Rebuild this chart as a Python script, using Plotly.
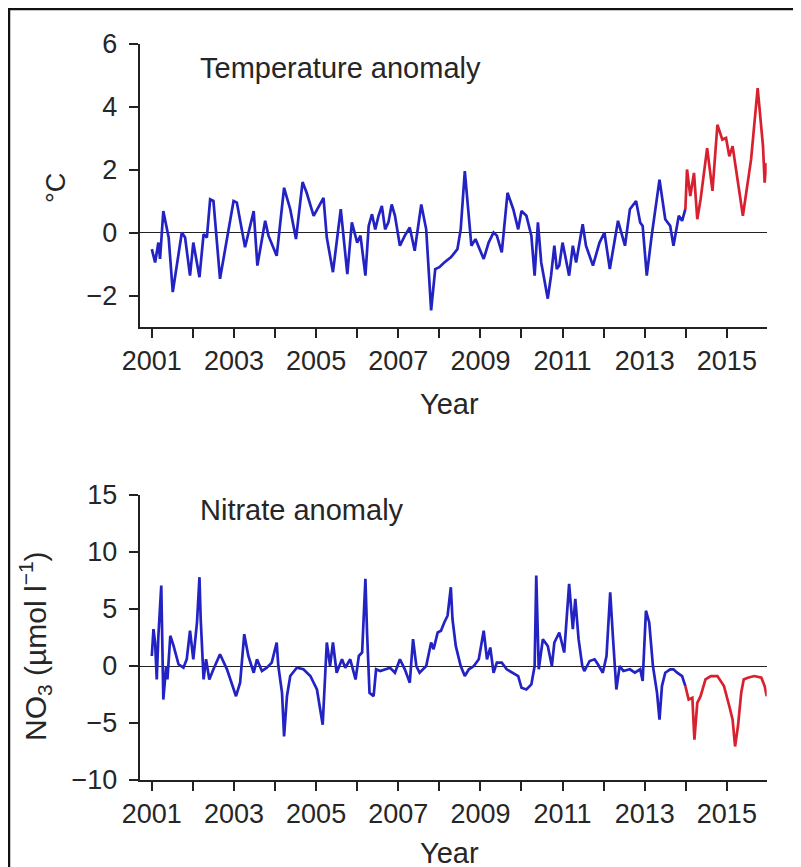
import plotly.graph_objects as go

# ---------------- data ----------------
temp_blue_year = [2001.00, 2001.08, 2001.16, 2001.20, 2001.28, 2001.41, 2001.51, 2001.73, 2001.81, 2001.93,
                  2002.01, 2002.16, 2002.26, 2002.34, 2002.42, 2002.50, 2002.66, 2002.99, 2003.07, 2003.27,
                  2003.48, 2003.57, 2003.76, 2003.84, 2004.04, 2004.22, 2004.37, 2004.51, 2004.67, 2004.77,
                  2004.94, 2005.18, 2005.26, 2005.41, 2005.60, 2005.76, 2005.87, 2006.00, 2006.08, 2006.20,
                  2006.28, 2006.36, 2006.44, 2006.52, 2006.60, 2006.68, 2006.76, 2006.84, 2006.92, 2007.04,
                  2007.16, 2007.28, 2007.40, 2007.56, 2007.68, 2007.80, 2007.90, 2008.00, 2008.12, 2008.28,
                  2008.44, 2008.52, 2008.62, 2008.72, 2008.78, 2008.88, 2009.08, 2009.20, 2009.32, 2009.40,
                  2009.52, 2009.66, 2009.80, 2009.92, 2010.00, 2010.12, 2010.24, 2010.32, 2010.40, 2010.48,
                  2010.64, 2010.72, 2010.80, 2010.86, 2010.92, 2011.00, 2011.08, 2011.16, 2011.25, 2011.33,
                  2011.49, 2011.57, 2011.74, 2011.90, 2012.02, 2012.15, 2012.35, 2012.43, 2012.52, 2012.64,
                  2012.79, 2012.89, 2012.95, 2013.05, 2013.17, 2013.36, 2013.50, 2013.62, 2013.70, 2013.83,
                  2013.91, 2013.99]
temp_blue_val = [-0.53, -0.95, -0.32, -0.84, 0.68, -0.16, -1.89, 0.00, -0.16, -1.37,
                 -0.32, -1.42, -0.05, -0.16, 1.05, 1.00, -1.47, 1.00, 0.95, -0.47,
                 0.68, -1.05, 0.37, -0.10, -0.74, 1.42, 0.74, -0.21, 1.60, 1.26,
                 0.53, 1.10, -0.16, -1.26, 0.74, -1.32, 0.32, -0.32, -0.10, -1.37,
                 0.21, 0.58, 0.10, 0.53, 0.84, 0.10, 0.32, 0.89, 0.53, -0.42,
                 -0.10, 0.16, -0.58, 0.89, 0.10, -2.47, -1.16, -1.10, -0.95, -0.79,
                 -0.53, 0.10, 1.95, 0.53, -0.42, -0.21, -0.84, -0.32, 0.00, -0.10,
                 -0.63, 1.26, 0.74, 0.10, 0.68, 0.53, -0.10, -1.37, 0.32, -0.95,
                 -2.10, -1.37, -0.42, -1.16, -1.05, -0.32, -0.84, -1.37, -0.42, -0.95,
                 0.26, -0.42, -1.05, -0.32, 0.00, -1.16, 0.37, 0.00, -0.42, 0.74,
                 1.00, 0.32, 0.21, -1.37, -0.10, 1.68, 0.42, 0.21, -0.42, 0.53,
                 0.37, 0.74]

temp_red_year = [2013.99, 2014.03, 2014.11, 2014.20, 2014.28, 2014.36, 2014.52, 2014.65, 2014.77, 2014.89,
                 2014.98, 2015.06, 2015.14, 2015.39, 2015.59, 2015.75, 2015.88, 2015.92, 2015.97]
temp_red_val = [0.74, 2.00, 1.16, 1.89, 0.42, 1.05, 2.68, 1.32, 3.42, 2.95,
                3.00, 2.42, 2.74, 0.53, 2.32, 4.58, 2.74, 1.58, 2.21]

no3_blue_year = [2001.00, 2001.04, 2001.08, 2001.12, 2001.16, 2001.23, 2001.28, 2001.35, 2001.38, 2001.45,
                 2001.53, 2001.65, 2001.77, 2001.85, 2001.93, 2002.01, 2002.10, 2002.16, 2002.19, 2002.26,
                 2002.32, 2002.40, 2002.50, 2002.66, 2002.83, 2003.05, 2003.15, 2003.25, 2003.35, 2003.48,
                 2003.56, 2003.68, 2003.80, 2003.92, 2004.04, 2004.08, 2004.17, 2004.22, 2004.29, 2004.37,
                 2004.53, 2004.69, 2004.86, 2005.02, 2005.16, 2005.20, 2005.26, 2005.34, 2005.41, 2005.50,
                 2005.63, 2005.71, 2005.83, 2005.96, 2006.04, 2006.12, 2006.20, 2006.24, 2006.30, 2006.40,
                 2006.46, 2006.56, 2006.68, 2006.80, 2006.92, 2007.04, 2007.16, 2007.28, 2007.36, 2007.44,
                 2007.52, 2007.60, 2007.68, 2007.80, 2007.86, 2007.96, 2008.04, 2008.12, 2008.20, 2008.28,
                 2008.32, 2008.40, 2008.52, 2008.62, 2008.72, 2008.84, 2008.96, 2009.08, 2009.16, 2009.24,
                 2009.32, 2009.40, 2009.52, 2009.64, 2009.80, 2009.92, 2010.00, 2010.12, 2010.24, 2010.32,
                 2010.36, 2010.42, 2010.52, 2010.64, 2010.74, 2010.80, 2010.92, 2011.04, 2011.16, 2011.25,
                 2011.31, 2011.39, 2011.48, 2011.53, 2011.66, 2011.78, 2011.86, 2011.98, 2012.07, 2012.16,
                 2012.23, 2012.31, 2012.39, 2012.48, 2012.64, 2012.76, 2012.89, 2012.95, 2013.03, 2013.11,
                 2013.20, 2013.30, 2013.36, 2013.42, 2013.50, 2013.62, 2013.70, 2013.79, 2013.91, 2013.99]
no3_blue_val = [0.88, 3.24, 2.06, -1.18, 2.65, 7.06, -2.94, 0.00, -1.18, 2.65,
                1.76, 0.15, -0.15, 0.59, 3.09, 0.59, 3.82, 7.79, 4.12, -1.18,
                0.59, -1.18, -0.29, 1.03, -0.29, -2.65, -1.47, 2.79, 0.88, -0.59,
                0.59, -0.44, -0.15, 0.29, 2.06, 0.00, -2.35, -6.18, -2.65, -0.88,
                -0.15, -0.29, -0.88, -2.06, -5.15, -1.76, 2.06, 0.00, 2.06, -0.59,
                0.59, -0.15, 0.59, -1.18, 0.88, 1.18, 7.65, 2.94, -2.35, -2.65,
                -0.29, -0.44, -0.29, -0.15, -0.59, 0.59, -0.29, -1.47, 2.35, 0.00,
                -0.59, -0.29, 0.00, 2.06, 1.47, 2.94, 3.09, 3.82, 4.41, 6.91,
                4.12, 1.76, 0.00, -0.88, -0.29, 0.00, 0.59, 3.09, 0.59, 1.62,
                -0.59, 0.29, 0.29, -0.29, -0.59, -0.88, -1.91, -2.06, -1.62, 0.00,
                7.94, -0.29, 2.35, 1.76, 0.00, 2.06, 2.94, 1.18, 7.21, 3.24,
                5.88, 2.35, 0.00, -0.44, 0.44, 0.59, 0.15, -0.59, 0.88, 6.47,
                2.35, -2.06, 0.00, -0.44, -0.29, -0.59, -0.29, -1.32, 4.85, 3.82,
                0.00, -2.35, -4.71, -1.76, -0.59, -0.29, -0.29, -0.59, -0.88, -1.76]

no3_red_year = [2013.99, 2014.07, 2014.16, 2014.21, 2014.28, 2014.36, 2014.48, 2014.61, 2014.77, 2014.93,
                2015.06, 2015.14, 2015.20, 2015.27, 2015.35, 2015.41, 2015.51, 2015.67, 2015.84, 2015.92,
                2015.97]
no3_red_val = [-1.76, -2.94, -2.79, -6.47, -3.24, -2.65, -1.18, -0.88, -0.88, -1.76,
               -3.53, -4.71, -7.06, -5.29, -2.35, -1.18, -1.03, -0.88, -1.03, -1.76,
               -2.65]

year_label_ticks = [2001, 2003, 2005, 2007, 2009, 2011, 2013, 2015]
year_labels = [str(y) for y in year_label_ticks]
temp_ticks = [-2, 0, 2, 4, 6]
no3_ticks = [-10, -5, 0, 5, 10, 15]

# ---------------- styling ----------------
# the page body has an 8 px margin; positions below are page pixels
OFF = 8
W, H = 801 - OFF, 867 - OFF
FONT = "Liberation Sans, Arial, sans-serif"
TXT = "#262626"
BLUE = "#2323c4"
RED = "#d8202e"
FS = 27
FS_T = 29


def px_x(x):
    return (x - OFF) / W


def px_y(y):
    return 1 - (y - OFF) / H


fig = go.Figure()
fig.add_trace(go.Scatter(x=temp_blue_year, y=temp_blue_val, mode="lines",
                         line=dict(color=BLUE, width=2.7), xaxis="x", yaxis="y"))
fig.add_trace(go.Scatter(x=temp_red_year, y=temp_red_val, mode="lines",
                         line=dict(color=RED, width=2.7), xaxis="x", yaxis="y"))
fig.add_trace(go.Scatter(x=no3_blue_year, y=no3_blue_val, mode="lines",
                         line=dict(color=BLUE, width=2.7), xaxis="x2", yaxis="y2"))
fig.add_trace(go.Scatter(x=no3_red_year, y=no3_red_val, mode="lines",
                         line=dict(color=RED, width=2.7), xaxis="x2", yaxis="y2"))

xdom = [px_x(139.5), px_x(766.7)]
xrange_ = [2000.70, 2015.97]

xcommon = dict(domain=xdom, range=xrange_, tickmode="array", tickvals=year_label_ticks,
               ticktext=year_labels, ticks="outside", ticklen=9, tickwidth=1.5,
               tickcolor="#222", showline=True, linecolor="#222", linewidth=1.8,
               minor=dict(tick0=2001, dtick=1, ticks="outside", ticklen=9, tickwidth=1.5,
                          tickcolor="#222", showgrid=False),
               showgrid=False, zeroline=False, automargin=False,
               tickfont=dict(family=FONT, size=FS, color=TXT), fixedrange=True)
ycommon = dict(ticks="outside", ticklen=9, tickwidth=1.5, tickcolor="#222",
               showline=True, linecolor="#222", linewidth=1.8, showgrid=False,
               zeroline=True, zerolinecolor="#222", zerolinewidth=1.3, automargin=False,
               ticklabelstandoff=6,
               tickfont=dict(family=FONT, size=FS, color=TXT), fixedrange=True)

fig.update_layout(
    width=W, height=H,
    margin=dict(l=0, r=0, t=0, b=0, autoexpand=False),
    paper_bgcolor="white", plot_bgcolor="white",
    showlegend=False,
    xaxis=dict(anchor="y", **xcommon),
    yaxis=dict(anchor="x", domain=[px_y(327), px_y(43.5)], range=[-3, 6],
               tickvals=temp_ticks, **ycommon),
    xaxis2=dict(anchor="y2", **xcommon),
    yaxis2=dict(anchor="x2", domain=[px_y(780), px_y(495)], range=[-10, 15],
                tickvals=no3_ticks, **ycommon),
)

annotations = [
    dict(text="Temperature anomaly", x=px_x(198), y=px_y(67.5), xanchor="left", yanchor="middle",
         font=dict(family=FONT, size=FS_T, color=TXT)),
    dict(text="Nitrate anomaly", x=px_x(198), y=px_y(510), xanchor="left", yanchor="middle",
         font=dict(family=FONT, size=FS_T, color=TXT)),
    dict(text="Year", x=px_x(450), y=px_y(404), xanchor="center", yanchor="middle",
         font=dict(family=FONT, size=FS_T, color=TXT)),
    dict(text="Year", x=px_x(450), y=px_y(853), xanchor="center", yanchor="middle",
         font=dict(family=FONT, size=FS_T, color=TXT)),
    dict(text="°C", x=px_x(56), y=px_y(188), xanchor="center", yanchor="middle", textangle=-90,
         font=dict(family=FONT, size=FS, color=TXT)),
    dict(text="NO<sub>3</sub> (µmol l<sup>−1</sup>)", x=px_x(35), y=px_y(646),
         xanchor="center", yanchor="middle", textangle=-90,
         font=dict(family=FONT, size=30, color=TXT)),
]
for a in annotations:
    a.update(xref="paper", yref="paper", showarrow=False)
fig.update_layout(annotations=annotations)

# figure frame
fig.add_shape(type="rect", xref="paper", yref="paper",
              x0=px_x(9), x1=px_x(795), y0=px_y(890), y1=px_y(9),
              line=dict(color="#111", width=2.5), fillcolor="rgba(0,0,0,0)", layer="above")

fig.write_html("out.html")
